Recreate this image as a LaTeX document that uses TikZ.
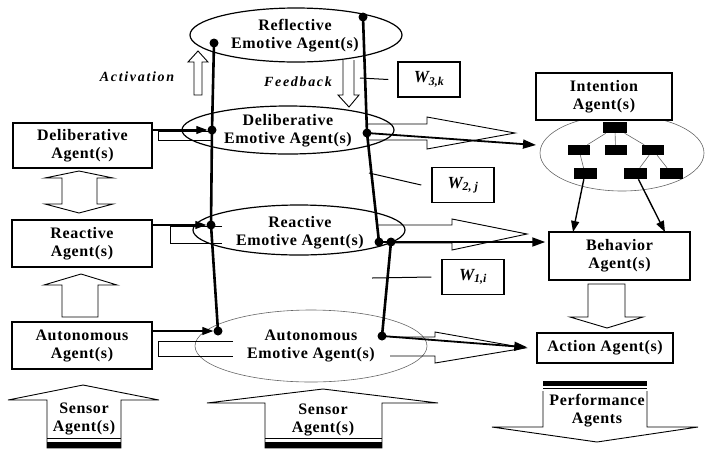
\documentclass[tikz,border=0pt]{standalone}
\usepackage{fontspec}
\setmainfont{Liberation Serif}
\newfontfamily\spacedserif[LetterSpace=4]{Liberation Serif}
\newfontfamily\spacedital[LetterSpace=12]{Liberation Serif}
\usetikzlibrary{calc,shapes,arrows.meta}

\newcommand{\agentfont}{\spacedserif\bfseries\fontsize{16}{18}\selectfont}
\newcommand{\italfont}{\spacedital\bfseries\itshape\fontsize{14}{16}\selectfont}

\tikzset{
  agentbox/.style={draw,line width=1.5pt,align=center,font=\agentfont,inner sep=0pt,fill=white},
  emotext/.style={align=center,font=\agentfont},
  wbox/.style={draw,line width=1.5pt,minimum width=62pt,minimum height=35pt,inner sep=0pt,
    font=\fontsize{17}{18}\selectfont\bfseries\itshape},
  emoring/.style={line width=1.2pt},
  spine/.style={line width=2.6pt},
  joint/.style={circle,fill,inner sep=0pt,minimum size=9pt},
  blockarrow/.style={line width=0.9pt,line join=miter},
  feedarrow/.style={-{Triangle[length=11pt,width=8pt]},line width=1.1pt},
  boldarrow/.style={-{Triangle[length=13pt,width=9pt]},line width=1.8pt},
  treebox/.style={fill=black,inner sep=0pt,minimum width=23pt,minimum height=11pt},
  treeline/.style={black!60,line width=0.6pt},
}

\begin{document}
\begin{tikzpicture}[x=1pt,y=-1pt]
\useasboundingbox (0,0) rectangle (706,448);

% emotive layers
\draw[emoring] (296,35) ellipse (106 and 27);
\draw[emoring] (288,130) ellipse (106 and 24);
\draw[emoring] (299,230) ellipse (106 and 25);
\draw[treeline] (311,346) ellipse (116 and 36);
\node[emotext] (reflect) at (295,36) {Reflective\\Emotive Agent(s)};
\node[emotext] (delibemo) at (288,130.5) {Deliberative\\Emotive Agent(s)};
\node[emotext] (reactemo) at (300,232.5) {Reactive\\Emotive Agent(s)};
\node[emotext] (autonemo) at (311,346) {Autonomous\\Emotive Agent(s)};

% activation / feedback
\draw[blockarrow] (198,51) -- (208,62) -- (202,62) -- (202,95) -- (194,95) -- (194,62) -- (188,62) -- cycle;
\draw[blockarrow] (343,60) -- (343,95) -- (338,95) -- (349,107) -- (359,95) -- (354,95) -- (354,60);
\node[font=\italfont] (activ) at (137,77) {Activation};
\node[font=\italfont] (feedb) at (298,82) {Feedback};

% left column
\node[agentbox,minimum width=139pt,minimum height=45pt] (delib) at (82.5,145.5) {Deliberative\\Agent(s)};
\node[agentbox,minimum width=140pt,minimum height=47pt] (react) at (82,243.5) {Reactive\\Agent(s)};
\node[agentbox,minimum width=140pt,minimum height=47pt] (auton) at (82,345.5) {Autonomous\\Agent(s)};
\draw[blockarrow] (79,171) -- (113,178) -- (97,178) -- (97,204) -- (113,204) -- (79,213)
  -- (45,204) -- (62,204) -- (62,178) -- (45,178) -- cycle;
\draw[blockarrow] (81,274) -- (117,285) -- (98,285) -- (98,317) -- (62,317) -- (62,285) -- (44,285) -- cycle;

% sensors
\draw[blockarrow] (83,385) -- (159,400) -- (121,400) -- (121,448) -- (47,448) -- (47,400) -- (8,400) -- cycle;
\draw[line width=0.8pt] (47,438) -- (121,438);
\fill (47,441.5) rectangle (121,448);
\node[emotext] (sens1) at (84,419) {Sensor\\Agent(s)};
\draw[blockarrow] (323,389) -- (438,403) -- (382,403) -- (382,448) -- (265,448) -- (265,403) -- (207,403) -- cycle;
\draw[line width=0.8pt] (265,438) -- (382,438);
\fill (265,441.5) rectangle (382,448);
\node[emotext] (sens2) at (323,420) {Sensor\\Agent(s)};

% right column
\draw[treeline] (622,153) ellipse (82 and 38);
\node[agentbox,minimum width=136pt,minimum height=47pt] (intent) at (604,96.5) {Intention\\Agent(s)};
\node[agentbox,minimum width=141pt,minimum height=48pt] (behav) at (619.5,256) {Behavior\\Agent(s)};
\node[agentbox,minimum width=136pt,minimum height=30pt] (action) at (605,348) {Action Agent(s)};
\draw[blockarrow] (588,284) -- (588,317) -- (570,317) -- (607,328) -- (643,317) -- (625,317) -- (625,284) -- cycle;
\fill (543,380.5) rectangle (647,385.5);
\draw[line width=1pt] (543,388.5) -- (647,388.5);
\draw[blockarrow] (543,391) -- (543,427) -- (492,427) -- (597,442) -- (698,427) -- (647,427) -- (647,391);
\node[emotext] (perf) at (597,411) {Performance\\Agents};

% intention tree
\node[treebox,minimum width=24pt] (t0) at (615,127.5) {};
\node[treebox,minimum width=22pt,minimum height=10pt] (t1) at (579,150) {};
\node[treebox,minimum width=22pt,minimum height=10pt] (t2) at (615.5,150) {};
\node[treebox,minimum width=22pt,minimum height=10pt] (t3) at (653,150) {};
\node[treebox] (t4) at (585,173.5) {};
\node[treebox] (t5) at (635.5,173.5) {};
\node[treebox] (t6) at (671.5,173.5) {};
\draw[treeline] (t0) -- (t1);
\draw[treeline] (t0) -- (t2);
\draw[treeline] (t0) -- (t3);
\draw[treeline] (t1) -- (t4);
\draw[treeline] (t3) -- (t5);
\draw[treeline] (t3) -- (t6);
\coordinate (bin1) at (573,232);
\coordinate (bin2) at (665,232);
\draw[feedarrow,line width=1.4pt] (t4) -- (bin1);
\draw[feedarrow,line width=1.4pt] (t5) -- (bin2);

% hollow arrows in and out of the layers
\draw[blockarrow] (213,131) -- (158,131) -- (158,140) -- (213,140);
\draw[blockarrow] (222,226) -- (170,226) -- (170,243) -- (222,243);
\draw[blockarrow] (233,341) -- (158,341) -- (158,356) -- (233,356);
\draw[blockarrow] (367,124) -- (427,124) -- (427,117) -- (515,133) -- (427,149) -- (427,140) -- (367,140);
\draw[blockarrow] (377,225) -- (452,225) -- (452,219) -- (527,234) -- (452,250) -- (452,243) -- (391,243);
\draw[blockarrow] (390,337) -- (435,337) -- (435,332) -- (525,348) -- (435,363) -- (435,356) -- (390,356);

% weights
\node[wbox] (w3) at (429,79.5) {W\textsubscript{3,k}};
\node[wbox] (w2) at (463,185) {W\textsubscript{2, j}};
\node[wbox] (w1) at (473,277) {W\textsubscript{1,i}};

% joints and spines
\node[joint] (l3) at (214,43) {};
\node[joint] (l2) at (212,130) {};
\node[joint] (l1) at (211,225) {};
\node[joint] (l0) at (218,331) {};
\node[joint] (r3) at (363,17) {};
\node[joint] (r2) at (367,133) {};
\node[joint] (r1a) at (379,242) {};
\node[joint] (r1b) at (391,242) {};
\node[joint] (r0) at (382,336) {};
\draw[spine] (l3.center) -- (l2.center) -- (l1.center) -- (l0.center);
\draw[spine] (r3.center) -- (r2.center) -- (r1a.center);
\draw[spine] (r1b.center) -- (r0.center);

\coordinate (w3s) at (360,78);
\coordinate (w2s) at (369,173);
\coordinate (w1s) at (372,278);
\draw[line width=1pt] (w3s) -- ([xshift=-9pt]w3.west);
\draw[line width=1pt] (w2s) -- (408,182) -- ([xshift=-10pt]w2.west);
\draw[line width=1pt] (w1s) -- ([xshift=-10pt]w1.west);

% links
\draw[feedarrow] (delib.east |- l2) -- (l2);
\draw[feedarrow] (react.east |- l1) -- (l1);
\draw[feedarrow] (auton.east |- l0) -- (l0);
\coordinate (itgt) at (536,145);
\draw[boldarrow] (r2.center) -- (itgt);
\draw[boldarrow,shorten >=3pt] (r1a.center) -- (behav.west |- r1a);
\draw[boldarrow,shorten >=9pt] (r0.center) -- (action.west);
\end{tikzpicture}
\end{document}
